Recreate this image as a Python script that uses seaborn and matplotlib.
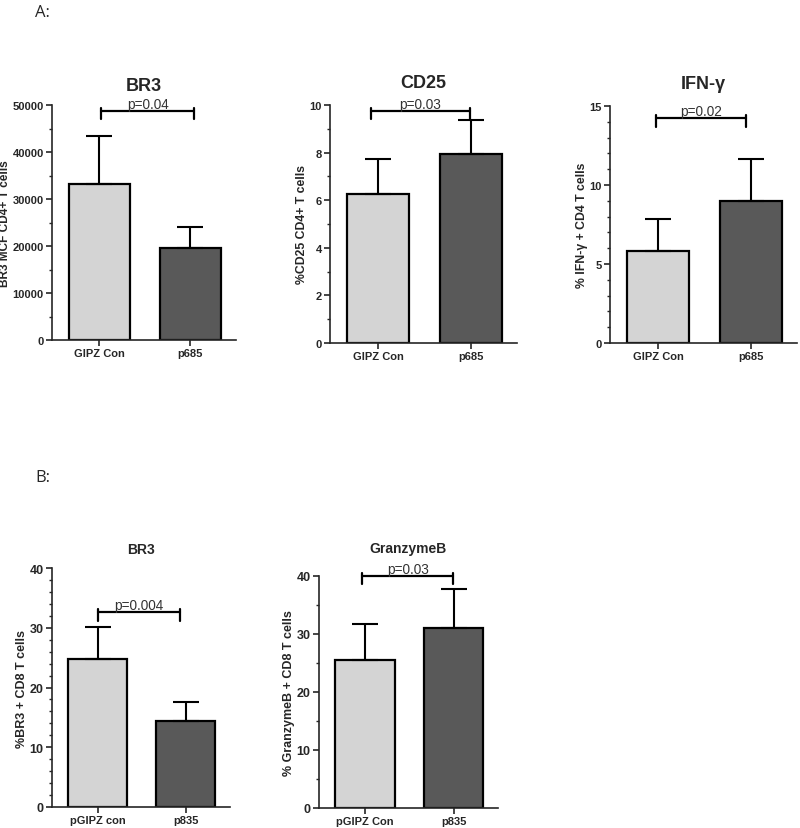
import numpy as np
import pandas as pd
import matplotlib
matplotlib.use("Agg")
import matplotlib.pyplot as plt
from matplotlib.ticker import MultipleLocator
import seaborn as sns

# Group labels
groups_a = ["GIPZ Con", "p685"]
groups_b1 = ["pGIPZ con", "p835"]
groups_b2 = ["pGIPZ Con", "p835"]

# Bar heights (means) and upper error (SD)
br3_cd4_mean = [33200, 19500]
br3_cd4_err = [10200, 4500]
cd25_mean = [6.24, 7.94]
cd25_err = [1.48, 1.45]
ifng_mean = [5.85, 9.0]
ifng_err = [2.0, 2.63]
br3_cd8_mean = [24.8, 14.4]
br3_cd8_err = [5.3, 3.1]
gzmb_mean = [25.5, 31.1]
gzmb_err = [6.2, 6.7]

# p-values and bracket heights
p_texts = ["p=0.04", "p=0.03", "p=0.02", "p=0.004", "p=0.03"]
p_heights = [48700, 9.75, 14.22, 32.6, 40.05]

colors = ["#d4d4d4", "#595959"]

sns.set_style("ticks")
plt.rcParams["font.family"] = ["Liberation Sans", "DejaVu Sans"]

W, H = 800, 829
fig = plt.figure(figsize=(W / 100, H / 100), dpi=100)


def px_axes(left, top, right, bottom):
    return fig.add_axes([left / W, 1 - bottom / H, (right - left) / W, (bottom - top) / H])


panels = [
    dict(box=(52, 106, 236, 341), groups=groups_a, mean=br3_cd4_mean, err=br3_cd4_err,
         title="BR3", tsize=13, tpad=11,
         ylabel="BR3 MCF CD4+ T cells", lsize=8.6, ymax=50000, major=10000, minor=5000,
         span=(0.02, 1.04), fs=8),
    dict(box=(330, 106, 517, 344), groups=groups_a, mean=cd25_mean, err=cd25_err,
         title="CD25", tsize=13, tpad=13,
         ylabel="%CD25 CD4+ T cells", lsize=8.8, ymax=10, major=2, minor=1,
         span=(-0.08, 0.99), fs=8),
    dict(box=(610, 107, 797, 344), groups=groups_a, mean=ifng_mean, err=ifng_err,
         title="IFN-γ", tsize=13, tpad=13,
         ylabel="% IFN-γ + CD4 T cells", lsize=8.8, ymax=15, major=5, minor=1,
         span=(-0.02, 0.95), fs=8),
    dict(box=(52, 569, 230, 808), groups=groups_b1, mean=br3_cd8_mean, err=br3_cd8_err,
         title="BR3", tsize=10, tpad=11,
         ylabel="%BR3 + CD8 T cells", lsize=9, ymax=40, major=10, minor=2,
         span=(0.0, 0.93), fs=9),
    dict(box=(319, 577, 498, 809), groups=groups_b2, mean=gzmb_mean, err=gzmb_err,
         title="GranzymeB", tsize=10, tpad=17,
         ylabel="% GranzymeB + CD8 T cells", lsize=9, ymax=40, major=10, minor=5,
         span=(-0.03, 0.99), fs=9),
]

for i, p in enumerate(panels):
    ax = px_axes(*p["box"])
    df = pd.DataFrame({"group": p["groups"], "value": p["mean"]})
    sns.barplot(data=df, x="group", y="value", hue="group", palette=colors,
                width=0.67, edgecolor="black", linewidth=1.6, errorbar=None,
                legend=False, ax=ax)
    ax.errorbar([0, 1], p["mean"], yerr=[[0, 0], p["err"]], fmt="none",
                ecolor="black", elinewidth=1.5, capsize=9.5, capthick=1.5, zorder=1)

    ymax = p["ymax"]
    ax.set_xlim(-0.52, 1.5)
    ax.set_ylim(0, ymax)
    ax.yaxis.set_major_locator(MultipleLocator(p["major"]))
    ax.yaxis.set_minor_locator(MultipleLocator(p["minor"]))
    ax.tick_params(axis="both", which="major", direction="out", length=4, width=1.2,
                   labelsize=p["fs"], pad=2)
    ax.tick_params(axis="y", which="minor", direction="out", length=2.5, width=1.0)
    ax.tick_params(axis="x", labelsize=8)
    for lab in ax.get_xticklabels() + ax.get_yticklabels():
        lab.set_fontweight("bold")
    sns.despine(ax=ax)
    for s in ["left", "bottom"]:
        ax.spines[s].set_linewidth(1.2)

    ax.set_xlabel("")
    ax.set_ylabel(p["ylabel"], fontsize=p["lsize"], fontweight="bold", labelpad=1)
    ax.set_title(p["title"], fontsize=p["tsize"], fontweight="bold", pad=p["tpad"])

    # significance bracket
    x0, x1 = p["span"]
    yb = p_heights[i]
    ax.plot([x0, x1], [yb, yb], color="black", lw=1.6, clip_on=False)
    for xe in (x0, x1):
        ax.plot([xe, xe], [yb + 0.012 * ymax, yb - 0.035 * ymax], color="black",
                lw=1.6, clip_on=False)
    ax.text((x0 + x1) / 2, yb + 0.012 * ymax, p_texts[i], ha="center", va="baseline",
            fontsize=9.8, color="#333333")

fig.text(35 / W, 1 - 13 / H, "A:", fontsize=12, family="Open Sans", va="center")
fig.text(35 / W, 1 - 478 / H, "B:", fontsize=12, family="Open Sans", va="center")

fig.savefig("out.png", dpi=100, facecolor="white")
